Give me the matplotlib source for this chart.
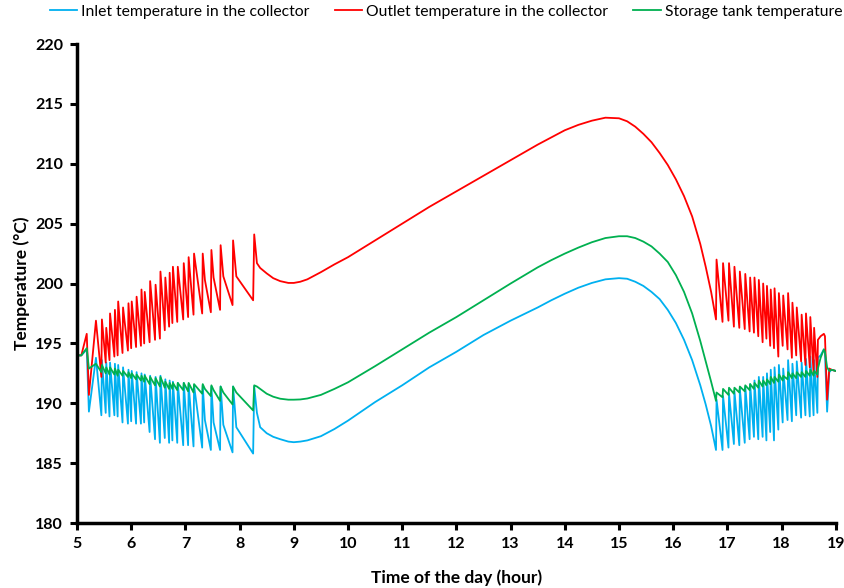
import numpy as np
import matplotlib.pyplot as plt

plt.rcParams['font.family'] = ['Lato', 'DejaVu Sans']

#%% data (hour of day, temperature in degC)
# start of the day
t_start = [5.00, 5.08, 5.18, 5.22]
inlet_start = [194.0, 194.0, 194.5, 189.3]
outlet_start = [194.0, 194.0, 195.8, 190.7]
tank_start = [194.0, 194.0, 194.6, 192.9]

# morning on/off cycling: peaks, troughs just before each peak, knees after sparse peaks
t_pk_am = [5.35, 5.46, 5.54, 5.61, 5.70, 5.76, 5.85, 5.95, 6.01, 6.10, 6.19, 6.25, 6.35, 6.45,
           6.54, 6.63, 6.71, 6.77, 6.86, 6.97, 7.06, 7.16, 7.32, 7.48, 7.65, 7.88, 8.27]
outlet_pk_am = [196.9, 197.0, 196.3, 197.5, 197.8, 198.5, 198.0, 198.35, 198.5, 198.9, 199.5, 199.3, 200.2, 199.9,
                201.0, 200.5, 200.9, 201.4, 201.4, 201.7, 202.2, 202.5, 202.5, 202.8, 203.2, 203.6, 204.1]
inlet_pk_am = [193.8, 193.6, 193.4, 193.4, 193.3, 193.2, 193.0, 192.8, 192.7, 192.6, 192.5, 192.4, 192.3, 192.2,
               192.3, 192.0, 191.9, 191.8, 191.7, 191.7, 191.6, 191.5, 191.5, 191.4, 191.4, 191.4, 191.4]
tank_pk_am = [193.3, 193.2, 193.0, 193.0, 192.9, 192.8, 192.7, 192.6, 192.5, 192.4, 192.3, 192.3, 192.2, 192.1,
              192.2, 191.8, 191.7, 191.7, 191.7, 191.7, 191.7, 191.6, 191.6, 191.5, 191.4, 191.4, 191.5]

t_tr_am = [5.45, 5.53, 5.60, 5.69, 5.75, 5.84, 5.94, 6.00, 6.09, 6.18, 6.24, 6.34, 6.44,
           6.53, 6.62, 6.70, 6.76, 6.85, 6.96, 7.05, 7.15, 7.31, 7.47, 7.64, 7.87, 8.25]
outlet_tr_am = [192.2, 193.4, 193.6, 193.9, 194.0, 194.2, 194.4, 194.6, 194.7, 194.8, 195.0, 195.1, 195.3,
                195.4, 196.1, 196.4, 196.7, 196.8, 197.0, 197.2, 197.4, 197.5, 197.6, 197.8, 198.2, 198.6]
inlet_tr_am = [189.0, 189.2, 188.9, 189.0, 188.9, 188.4, 188.3, 188.5, 188.3, 188.3, 188.4, 187.6, 187.0,
               186.7, 187.1, 186.7, 186.9, 186.7, 186.5, 186.5, 186.4, 186.3, 186.1, 186.1, 185.9, 185.8]
tank_tr_am = [192.6, 192.5, 192.4, 192.4, 192.3, 192.3, 192.2, 192.1, 192.0, 191.9, 191.8, 191.6, 191.5,
              191.4, 191.3, 191.2, 191.2, 191.1, 191.1, 191.0, 190.9, 190.8, 190.6, 190.2, 189.9, 189.4]

t_knee_am = [7.36, 7.52, 7.70, 7.94]
outlet_knee_am = [200.3, 200.5, 200.6, 200.6]
inlet_knee_am = [188.6, 188.4, 188.2, 188.0]
tank_knee_am = [191.2, 191.1, 190.9, 190.9]

# continuous operation through the day
t_day = [8.32, 8.38, 8.5, 8.62, 8.75, 8.9, 9.0, 9.12, 9.25, 9.5, 9.75, 10.0, 10.5, 11.0, 11.5, 12.0,
         12.5, 13.0, 13.5, 13.75, 14.0, 14.25, 14.5, 14.75, 15.0, 15.15, 15.3, 15.45, 15.6, 15.75,
         15.9, 16.05, 16.2, 16.35, 16.5, 16.6, 16.7, 16.79]
outlet_day = [201.7, 201.3, 200.85, 200.45, 200.2, 200.05, 200.05, 200.15, 200.35, 200.95, 201.6, 202.2,
              203.6, 205.0, 206.4, 207.7, 209.0, 210.3, 211.6, 212.2, 212.8, 213.25, 213.6, 213.85, 213.8,
              213.55, 213.1, 212.5, 211.8, 210.9, 209.9, 208.7, 207.3, 205.6, 203.3, 201.4, 199.3, 197.0]
inlet_day = [189.2, 188.0, 187.5, 187.2, 187.0, 186.8, 186.75, 186.8, 186.9, 187.25, 187.85, 188.55,
             190.1, 191.5, 193.0, 194.3, 195.7, 196.9, 198.0, 198.6, 199.15, 199.65, 200.05, 200.35, 200.45,
             200.4, 200.15, 199.8, 199.3, 198.7, 197.8, 196.7, 195.3, 193.6, 191.5, 189.9, 188.1, 186.1]
tank_day = [191.4, 191.2, 190.8, 190.55, 190.38, 190.3, 190.3, 190.32, 190.4, 190.7, 191.2, 191.75,
            193.1, 194.5, 195.9, 197.2, 198.6, 200.0, 201.35, 201.95, 202.5, 203.0, 203.45, 203.8, 203.95,
            203.95, 203.8, 203.5, 203.1, 202.5, 201.8, 200.7, 199.3, 197.5, 195.2, 193.5, 191.8, 190.2]

# afternoon cycling
t_pk_pm = [16.80, 16.92, 17.03, 17.13, 17.23, 17.33, 17.42, 17.50, 17.58, 17.66, 17.73, 17.80,
           17.87, 17.95, 18.03, 18.12, 18.20, 18.28, 18.37, 18.45, 18.53, 18.60, 18.67]
outlet_pk_pm = [202.0, 201.7, 201.7, 201.4, 201.0, 200.8, 200.5, 200.5, 200.3, 200.0, 199.8, 199.5,
                199.6, 199.2, 199.0, 199.2, 198.4, 198.0, 197.4, 197.5, 197.2, 196.3, 195.3]
inlet_pk_pm = [190.3, 190.6, 190.8, 191.0, 191.2, 191.4, 191.6, 191.9, 192.2, 192.2, 192.5, 192.8,
               193.0, 193.2, 192.9, 193.6, 193.3, 193.5, 193.4, 193.7, 193.9, 193.6, 193.8]
tank_pk_pm = [190.9, 191.2, 191.3, 191.3, 191.4, 191.5, 191.6, 191.7, 191.9, 191.9, 192.0, 192.2,
              192.2, 192.4, 192.3, 192.6, 192.5, 192.6, 192.6, 192.7, 192.8, 192.7, 192.9]

t_tr_pm = [16.91, 17.02, 17.12, 17.22, 17.32, 17.41, 17.49, 17.57, 17.65, 17.72, 17.79,
           17.86, 17.94, 18.02, 18.11, 18.19, 18.27, 18.36, 18.44, 18.52, 18.59, 18.66]
outlet_tr_pm = [196.8, 196.9, 196.4, 196.3, 196.2, 196.0, 195.9, 195.6, 195.1, 195.4, 194.8,
                194.6, 193.9, 194.8, 194.5, 193.8, 194.0, 193.5, 193.2, 193.0, 192.5, 192.2]
inlet_tr_pm = [186.1, 186.3, 186.6, 186.5, 186.7, 187.0, 187.2, 187.0, 187.2, 186.9, 187.6,
               186.9, 187.8, 188.4, 188.6, 188.5, 189.0, 188.8, 189.0, 188.9, 189.0, 189.2]
tank_tr_pm = [190.5, 190.7, 190.8, 190.9, 191.0, 191.1, 191.2, 191.3, 191.4, 191.5, 191.6,
              191.7, 191.8, 191.9, 192.0, 192.1, 192.1, 192.2, 192.2, 192.3, 192.3, 192.4]

# end of the day
t_end = [18.72, 18.78, 18.80, 18.84, 18.88, 18.92, 19.0]
outlet_end = [195.6, 195.8, 195.6, 190.3, 192.9, 192.8, 192.7]
inlet_end = [194.0, 194.5, 194.2, 189.3, 192.6, 192.8, 192.7]
tank_end = [193.8, 194.5, 194.3, 193.0, 192.7, 192.8, 192.7]


def series(*parts):
    # join (time, value) pieces and put them in time order
    t = np.concatenate([p[0] for p in parts])
    v = np.concatenate([p[1] for p in parts])
    order = np.argsort(t, kind='stable')
    return t[order], v[order]


t_in, inlet = series((t_start, inlet_start), (t_pk_am, inlet_pk_am), (t_tr_am, inlet_tr_am),
                     (t_knee_am, inlet_knee_am), (t_day, inlet_day), (t_pk_pm, inlet_pk_pm),
                     (t_tr_pm, inlet_tr_pm), (t_end, inlet_end))
t_out, outlet = series((t_start, outlet_start), (t_pk_am, outlet_pk_am), (t_tr_am, outlet_tr_am),
                       (t_knee_am, outlet_knee_am), (t_day, outlet_day), (t_pk_pm, outlet_pk_pm),
                       (t_tr_pm, outlet_tr_pm), (t_end, outlet_end))
t_tank, tank = series((t_start, tank_start), (t_pk_am, tank_pk_am), (t_tr_am, tank_tr_am),
                      (t_knee_am, tank_knee_am), (t_day, tank_day), (t_pk_pm, tank_pk_pm),
                      (t_tr_pm, tank_tr_pm), (t_end, tank_end))

#%% plot
fig = plt.figure(figsize=(8.45, 5.88), dpi=100)
ax = fig.add_axes([0.0911, 0.1105, 0.898, 0.8146])

ax.plot(t_in, inlet, color='#00B0F0', lw=1.3, label='Inlet temperature in the collector')
ax.plot(t_out, outlet, color='#FF0000', lw=1.3, label='Outlet temperature in the collector')
ax.plot(t_tank, tank, color='#00B050', lw=1.3, label='Storage tank temperature')

ax.set_xlim(5, 19)
ax.set_ylim(180, 220)
ax.set_xticks(range(5, 20))
ax.set_yticks(range(180, 221, 5))
for s in ['top', 'right']:
    ax.spines[s].set_visible(False)
for s in ['left', 'bottom']:
    ax.spines[s].set_linewidth(2.5)
ax.tick_params(direction='out', length=5, width=2.2, labelsize=11.5, pad=5)
for lab in ax.get_xticklabels() + ax.get_yticklabels():
    lab.set_fontweight('bold')

ax.set_xlabel('Time of the day (hour)', fontsize=12.5, fontweight='bold', labelpad=13)
ax.set_ylabel('Temperature (°C)', fontsize=12.5, fontweight='bold', labelpad=4)

fig.legend(loc='upper center', bbox_to_anchor=(0.528, 1.005), ncol=3, frameon=False,
           fontsize=11.3, handlelength=1.75, handletextpad=0.25, columnspacing=1.6,
           borderaxespad=0.2, borderpad=0.3)

plt.savefig('out.png', dpi=100)
